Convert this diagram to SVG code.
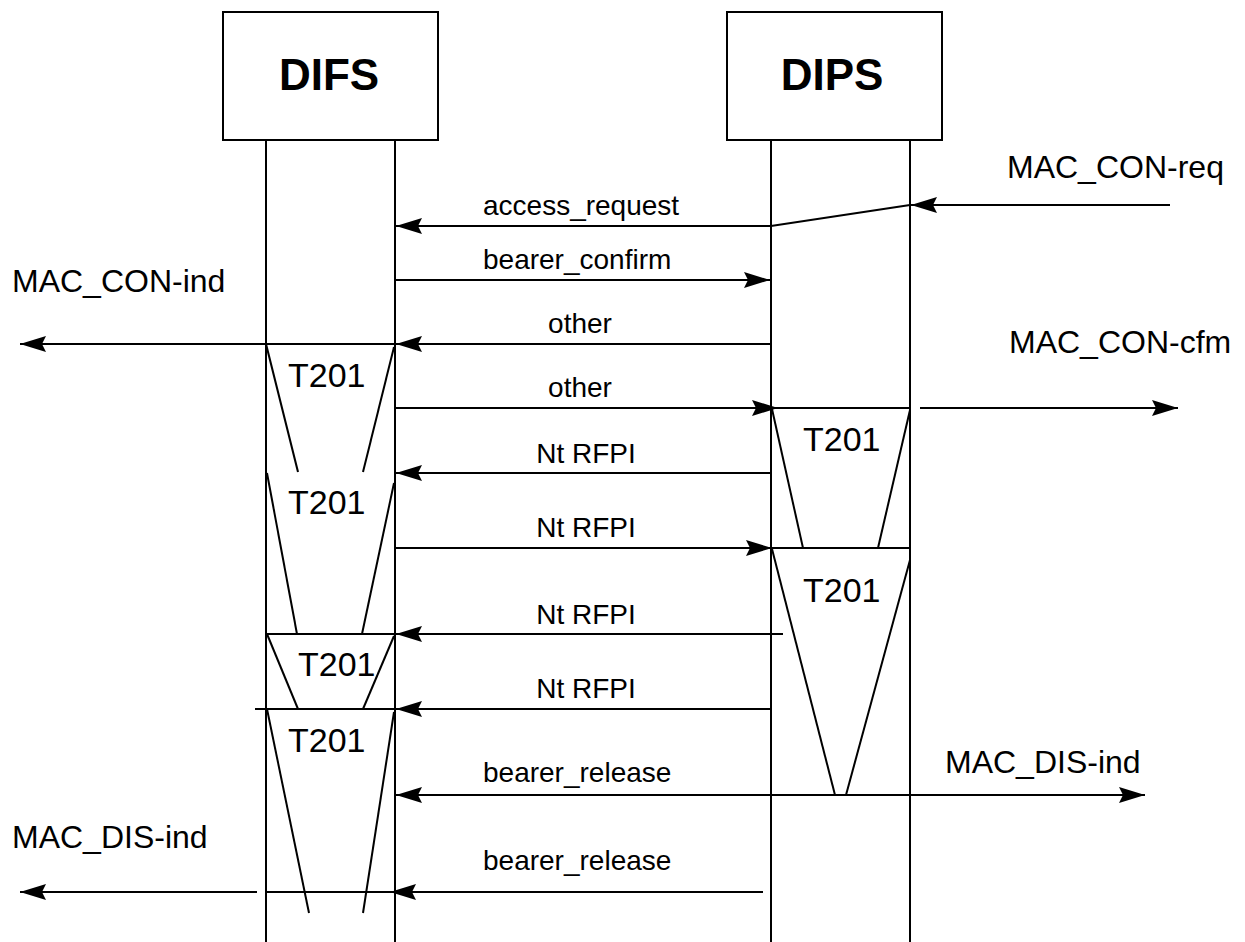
<svg xmlns="http://www.w3.org/2000/svg" width="1245" height="942" viewBox="0 0 1245 942">
<style>
.box{fill:#fff;stroke:#000;stroke-width:2}
.ln{fill:none;stroke:#000;stroke-width:2}
.msg{fill:none;stroke:#000;stroke-width:2;marker-end:url(#ah)}
.title{font-family:"Liberation Sans",Arial,sans-serif;font-weight:bold;font-size:44px;fill:#000}
.lbl{font-family:"Liberation Sans",Arial,sans-serif;font-size:28px;fill:#000}
.prim{font-family:"Liberation Sans",Arial,sans-serif;font-size:32px;fill:#000}
.tmr{font-family:"Liberation Sans",Arial,sans-serif;font-size:34px;fill:#000}
</style>
<defs>
<marker id="ah" markerUnits="userSpaceOnUse" markerWidth="26" markerHeight="16" viewBox="0 0 26 16" refX="26" refY="8" orient="auto-start-reverse">
<path d="M0,0 L26,8 L0,16 L4,8 Z" fill="#000"/>
</marker>
</defs>
<rect width="1245" height="942" fill="#fff"/>

<g id="DIFS">
<rect class="box" x="223" y="12" width="215" height="128"/>
<text class="title" x="329" y="90" text-anchor="middle">DIFS</text>
<line class="ln" x1="266" y1="140" x2="266" y2="942"/>
<line class="ln" x1="395" y1="140" x2="395" y2="942"/>
</g>

<g id="DIPS">
<rect class="box" x="727" y="12" width="215" height="128"/>
<text class="title" x="832" y="90" text-anchor="middle">DIPS</text>
<line class="ln" x1="771" y1="140" x2="771" y2="942"/>
<line class="ln" x1="910" y1="140" x2="910" y2="942"/>
</g>

<g id="timers">
<g id="t201-difs-1">
<line class="ln" x1="266" y1="344" x2="298" y2="472"/>
<line class="ln" x1="394" y1="347" x2="363" y2="472"/>
<text class="tmr" x="288" y="387">T201</text>
</g>
<g id="t201-dips-1">
<line class="ln" x1="771" y1="408" x2="910" y2="408"/>
<line class="ln" x1="772" y1="409" x2="803" y2="548"/>
<line class="ln" x1="910" y1="410" x2="878" y2="548"/>
<text class="tmr" x="803" y="451">T201</text>
</g>
<g id="t201-difs-2">
<line class="ln" x1="267" y1="473" x2="297" y2="634"/>
<line class="ln" x1="394" y1="483" x2="362" y2="634"/>
<text class="tmr" x="288" y="514">T201</text>
</g>
<g id="t201-dips-2">
<line class="ln" x1="771" y1="548" x2="910" y2="548"/>
<line class="ln" x1="772" y1="549" x2="835" y2="795"/>
<line class="ln" x1="910" y1="560" x2="846" y2="795"/>
<text class="tmr" x="803" y="602">T201</text>
</g>
<g id="t201-difs-3">
<line class="ln" x1="266" y1="634" x2="395" y2="634"/>
<line class="ln" x1="267" y1="634" x2="298" y2="709"/>
<line class="ln" x1="394" y1="636" x2="363" y2="709"/>
<text class="tmr" x="298" y="676">T201</text>
</g>
<g id="t201-difs-4">
<line class="ln" x1="267" y1="709" x2="309" y2="913"/>
<line class="ln" x1="394" y1="712" x2="363" y2="913"/>
<text class="tmr" x="288" y="752">T201</text>
</g>
</g>

<g id="connectors">
<line class="msg" x1="1170" y1="205" x2="911" y2="205"/>
<text class="prim" x="1007" y="178">MAC_CON-req</text>
<polyline class="msg" points="910,205 771,226 396,226"/>
<text class="lbl" x="483" y="215">access_request</text>
<line class="msg" x1="395" y1="280" x2="770" y2="280"/>
<text class="lbl" x="483" y="269">bearer_confirm</text>
<line class="msg" x1="771" y1="344" x2="396" y2="344"/>
<text class="lbl" x="580" y="333" text-anchor="middle">other</text>
<line class="msg" x1="395" y1="344" x2="20" y2="344"/>
<text class="prim" x="12" y="292">MAC_CON-ind</text>
<line class="msg" x1="395" y1="408" x2="778" y2="408"/>
<text class="lbl" x="580" y="397" text-anchor="middle">other</text>
<line class="msg" x1="920" y1="408" x2="1178" y2="408"/>
<text class="prim" x="1009" y="353">MAC_CON-cfm</text>
<line class="msg" x1="771" y1="473" x2="396" y2="473"/>
<text class="lbl" x="586" y="463" text-anchor="middle">Nt RFPI</text>
<line class="msg" x1="395" y1="548" x2="772" y2="548"/>
<text class="lbl" x="586" y="537" text-anchor="middle">Nt RFPI</text>
<line class="msg" x1="783" y1="634" x2="396" y2="634"/>
<text class="lbl" x="586" y="624" text-anchor="middle">Nt RFPI</text>
<line class="msg" x1="771" y1="709" x2="396" y2="709"/>
<line class="ln" x1="395" y1="709" x2="255" y2="709"/>
<text class="lbl" x="586" y="698" text-anchor="middle">Nt RFPI</text>
<line class="msg" x1="396" y1="795" x2="1145" y2="795" style="marker-start:url(#ah)"/>
<text class="lbl" x="483" y="782">bearer_release</text>
<text class="prim" x="945" y="773">MAC_DIS-ind</text>
<line class="msg" x1="763" y1="892" x2="390" y2="892"/>
<line class="ln" x1="266" y1="892" x2="395" y2="892"/>
<text class="lbl" x="483" y="870">bearer_release</text>
<line class="msg" x1="257" y1="892" x2="20" y2="892"/>
<text class="prim" x="12" y="848">MAC_DIS-ind</text>
</g>
</svg>
